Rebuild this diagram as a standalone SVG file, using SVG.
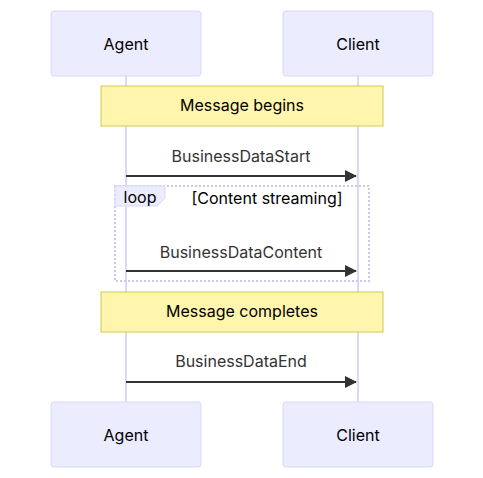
<svg xmlns="http://www.w3.org/2000/svg" width="483" height="478" viewBox="0 0 483 478">
<style>
.actor{fill:#ECECFF;stroke:#DCD6F7;stroke-width:1}
.actor-text{font-family:Inter,"Liberation Sans",sans-serif;font-size:16px;fill:#000;text-anchor:middle;dominant-baseline:central}
.life{stroke:#DCD6F7;stroke-width:2}
.note{fill:#FFF5AD;stroke:#CCCC55;stroke-width:1}
.note-text{font-family:Inter,"Liberation Sans",sans-serif;font-size:16px;fill:#000;text-anchor:middle;dominant-baseline:central}
.msg{stroke:#333;stroke-width:2;fill:none}
.msg-text{font-family:Inter,"Liberation Sans",sans-serif;font-size:16px;fill:#333;text-anchor:middle;dominant-baseline:central}
.loop{fill:none;stroke:#CFC6F0;stroke-width:2;stroke-dasharray:2,2}
.loop-label{fill:#ECECFF;stroke:#DCD6F7;stroke-width:1}
.loop-text{font-family:Inter,"Liberation Sans",sans-serif;font-size:16px;fill:#000;text-anchor:middle;dominant-baseline:central}
</style>
<defs>
<marker id="arrow" viewBox="0 0 12 12" refX="11" refY="6" markerWidth="12" markerHeight="12" markerUnits="userSpaceOnUse" orient="auto">
<path d="M0,0 L12,6 L0,12 Z" fill="#333"/>
</marker>
</defs>
<g id="lifelines">
<line class="life" x1="126" y1="76" x2="126" y2="402"/>
<line class="life" x1="358" y1="76" x2="358" y2="402"/>
</g>
<g id="actor-agent-top">
<rect class="actor" x="51" y="11" width="150" height="65" rx="3"/>
<text class="actor-text" x="126" y="44">Agent</text>
</g>
<g id="actor-client-top">
<rect class="actor" x="283" y="11" width="150" height="65" rx="3"/>
<text class="actor-text" x="358" y="44">Client</text>
</g>
<g id="note-begins">
<rect class="note" x="101" y="86" width="282" height="40"/>
<text class="note-text" x="242" y="105">Message begins</text>
</g>
<g id="loop">
<rect class="loop" x="115" y="186" width="254" height="95"/>
<polygon class="loop-label" points="115,186 165,186 165,198 157,206 115,206"/>
<text class="loop-text" x="140" y="197">loop</text>
<text class="loop-text" x="267" y="198">[Content streaming]</text>
</g>
<g id="note-completes">
<rect class="note" x="101" y="292" width="282" height="40"/>
<text class="note-text" x="242" y="311">Message completes</text>
</g>
<g id="actor-agent-bottom">
<rect class="actor" x="51" y="402" width="150" height="65" rx="3"/>
<text class="actor-text" x="126" y="435">Agent</text>
</g>
<g id="actor-client-bottom">
<rect class="actor" x="283" y="402" width="150" height="65" rx="3"/>
<text class="actor-text" x="358" y="435">Client</text>
</g>
<g id="connectors">
<line class="msg" x1="126" y1="176" x2="356" y2="176" marker-end="url(#arrow)"/>
<text class="msg-text" x="241" y="156">BusinessDataStart</text>
<line class="msg" x1="126" y1="271" x2="356" y2="271" marker-end="url(#arrow)"/>
<text class="msg-text" x="241" y="252">BusinessDataContent</text>
<line class="msg" x1="126" y1="382" x2="356" y2="382" marker-end="url(#arrow)"/>
<text class="msg-text" x="241" y="361">BusinessDataEnd</text>
</g>
</svg>
